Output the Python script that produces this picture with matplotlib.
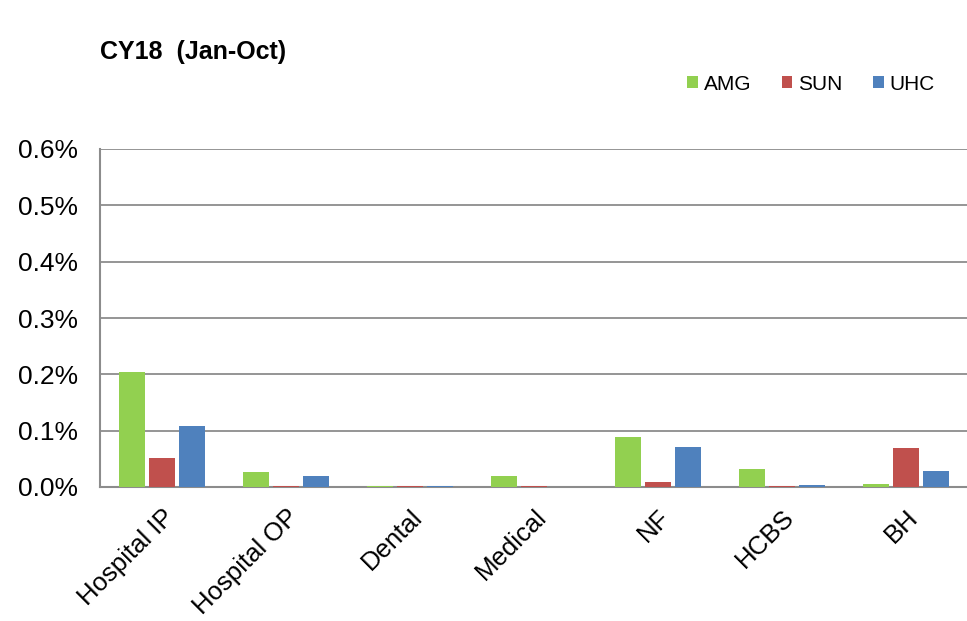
import matplotlib
matplotlib.use('Agg')
import matplotlib.pyplot as plt
import numpy as np

plt.rcParams['font.family'] = ['Liberation Sans', 'DejaVu Sans']

categories = ['Hospital IP', 'Hospital OP', 'Dental', 'Medical', 'NF', 'HCBS', 'BH']
amg = [0.2045, 0.027, 0.001, 0.019, 0.0887, 0.032, 0.0053]
sun = [0.052, 0.002, 0.001, 0.001, 0.0095, 0.002, 0.069]
uhc = [0.1076, 0.019, 0.002, 0.0, 0.0704, 0.0035, 0.028]
series = [('AMG', amg, '#92D050'), ('SUN', sun, '#C0504D'), ('UHC', uhc, '#4F81BD')]
yticks = [0.0, 0.1, 0.2, 0.3, 0.4, 0.5, 0.6]

fig = plt.figure(figsize=(9.67, 6.21), dpi=100)
ax = fig.add_axes([100/967, 1 - 487/621, 868/967, (487 - 149)/621])

x = np.arange(len(categories))
width = 0.21
step = 0.242
for i, (name, vals, col) in enumerate(series):
    ax.bar(x + (i - 1) * step, vals, width, color=col, label=name, zorder=3)

ax.set_xlim(-0.5, len(categories) - 0.5)
ax.set_ylim(0, 0.6)
ax.set_yticks(yticks)
ax.set_yticklabels(['%.1f%%' % v for v in yticks], fontsize=19)
ax.yaxis.grid(True, color='#8c8c8c', linewidth=1.3, zorder=0)
ax.tick_params(axis='y', length=0, pad=16)
ax.set_xticks(x)
ax.set_xticklabels(categories, rotation=45, ha='right', rotation_mode='anchor', fontsize=18.5)
ax.tick_params(axis='x', length=0, pad=13)
for s in ['top', 'right']:
    ax.spines[s].set_visible(False)
for s in ['left', 'bottom']:
    ax.spines[s].set_color('#8c8c8c')
    ax.spines[s].set_linewidth(1.5)

fig.text(100/967, 1 - 52/621, 'CY18  (Jan-Oct)', fontsize=18, fontweight='bold', va='center')
fig.legend(loc='center right', bbox_to_anchor=(935/967, 1 - 84/621), bbox_transform=fig.transFigure,
           ncol=3, frameon=False, fontsize=15, handlelength=0.5, handleheight=0.5,
           columnspacing=1.45, handletextpad=0.3, borderpad=0, borderaxespad=0)

fig.savefig('out.png', dpi=100)
